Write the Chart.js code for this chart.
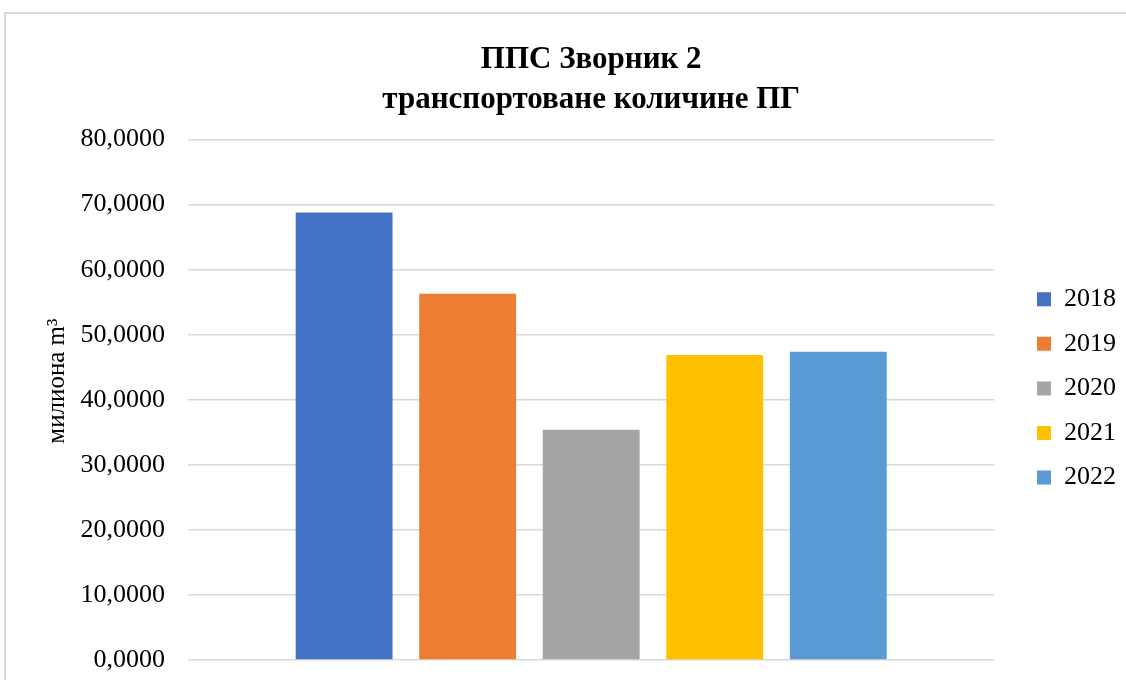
<!DOCTYPE html>
<html>
<head>
<meta charset="utf-8">
<script src="https://cdn.jsdelivr.net/npm/chart.js@4.4.0/dist/chart.umd.min.js"></script>
<style>
  html, body { margin: 0; padding: 0; background: #fff; }
  #wrap { width: 1126px; height: 680px; }
</style>
</head>
<body>
<div id="wrap"><canvas id="myChart" width="1126" height="680"></canvas></div>
<script>
// data
var years = ['2018', '2019', '2020', '2021', '2022'];
var values = [68.8, 56.3, 35.4, 46.9, 47.4];
var colors = ['#4472C4', '#ED7D31', '#A5A5A5', '#FFC000', '#5B9BD5'];
var titleLines = ['ППС Зворник 2', 'транспортоване количине ПГ'];
var yTitle = '      милиона m³';

var serif = "'Liberation Serif', 'Times New Roman', serif";

var datasets = [];
for (let i = 0; i < years.length; i++) {
  datasets.push({
    label: years[i],
    data: [values[i]],
    backgroundColor: colors[i],
    borderWidth: 0,
    categoryPercentage: 0.766,
    barPercentage: 0.784
  });
}

// light frame round the chart
var frame = {
  id: 'frame',
  beforeDraw: function (chart) {
    var c = chart.ctx;
    c.save();
    c.fillStyle = '#fff';
    c.fillRect(0, 0, chart.width, chart.height);
    c.strokeStyle = '#d9d9d9';
    c.lineWidth = 2;
    c.strokeRect(5, 13, 1300, 900);
    c.restore();
  }
};

var ctx = document.getElementById('myChart').getContext('2d');
var chart = new Chart(ctx, {
  type: 'bar',
  data: { labels: [''], datasets: datasets },
  plugins: [frame],
  options: {
    responsive: false,
    animation: false,
    layout: { padding: { top: 40, bottom: 20, left: 0, right: 0 } },
    plugins: {
      title: {
        display: true,
        text: titleLines,
        fullSize: false,
        color: '#000',
        font: { family: serif, size: 31, weight: 'bold', lineHeight: 1.3 },
        padding: { top: 0, bottom: 19 }
      },
      legend: {
        position: 'right',
        fullSize: false,
        align: 'start',
        title: { display: true, text: '', font: { size: 10, lineHeight: 1 }, padding: { top: 118, bottom: 0 } },
        labels: {
          color: '#000',
          font: { family: serif, size: 26 },
          boxWidth: 14,
          boxHeight: 14,
          padding: 18.6
        }
      },
      tooltip: { enabled: false }
    },
    scales: {
      x: { display: false },
      y: {
        min: 0,
        max: 80,
        border: { display: false },
        grid: { color: '#d9d9d9', lineWidth: 1.5, drawTicks: true, tickLength: 23, tickColor: 'rgba(0,0,0,0)' },
        ticks: {
          stepSize: 10,
          padding: 0,
          color: '#000',
          font: { family: serif, size: 26 },
          callback: function (v) { return v.toFixed(4).replace('.', ','); }
        },
        title: {
          display: true,
          text: yTitle,
          color: '#000',
          font: { family: serif, size: 25 },
          padding: 42
        },
        afterFit: function (scale) { scale.width = 188; }
      },
      // empty right-hand axis, only keeps a gap before the legend
      gap: {
        position: 'right',
        display: true,
        grid: { display: false },
        border: { display: false },
        ticks: { display: false },
        afterFit: function (scale) { scale.width = 24; }
      }
    }
  }
});
</script>
</body>
</html>
